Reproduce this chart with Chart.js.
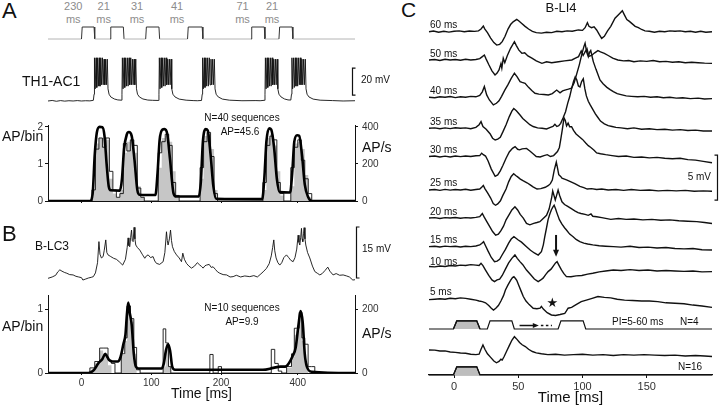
<!DOCTYPE html>
<html>
<head>
<meta charset="utf-8">
<title>B-LI4</title>
<script src="https://cdn.jsdelivr.net/npm/chart.js@4.4.1/dist/chart.umd.min.js"></script>
<style>
  body { margin: 0; position: relative; width: 720px; height: 408px; overflow: hidden; background: #fff;
         font-family: "Liberation Sans", Arial, sans-serif; color: #111; }
  canvas { position: absolute; }
  .t { position: absolute; white-space: nowrap; line-height: 1; }
</style>
</head>
<body>
<script>
// ---------- panels A and B: time in display ms (the 200-400 stretch is squeezed like in the figure) ----------
const timeTickPos = [0, 100, 200, 310];
const timeTickLabels = ['0', '100', '200', '400'];

const aStimLabels = ['230', '21', '31', '41', '71', '21'];
const aStim = [[-48,0],[0,0],[1,1],[18,1],[19,0],[41,0],[42,1],[60,1],[61,0],[92,0],[93,1],[111,1],[112,0],
  [152,0],[153,1],[173,1],[174,0],[243,0],[244,1],[262,1],[263,0],[283,0],[284,1],[302,1],[303,0],[392,0]];

// TH1-AC1 membrane potential, mV above rest
const aVm = [[-48,0],[-42,0.4],[-36,-0.2],[-30,0.3],[-24,-0.1],[-18,0.2],[-12,0],[-6,0.3],[0,0],[6,0.2],[12,0.1],
  [17,0.5],[18,5],[18.6,32],[19.6,9],[20.9,32],[21.9,10],[23.2,32],[24.2,11],[25.5,32],[26.5,11],[27.8,32],[28.8,12],
  [30.1,32],[31.1,12],[32.4,31],[33.4,12],[34.7,31],[35.7,12],[37,31],[38,9],[39.5,5],[42,3],[47,1.5],[52,0.8],
  [57,0.6],[58,5],[58.6,32],[59.6,9],[61,32],[62,10],[63.4,32],[64.4,11],[65.8,32],[66.8,11],[68.2,32],[69.2,12],
  [70.6,32],[71.6,12],[73,31],[74,12],[75.4,31],[76.4,12],[77.8,31],[78.8,9],[80.3,5],[83,3],[88,1.5],[95,0.7],[102,0.5],
  [110,0.4],[111,5],[111.6,32],[112.6,9],[114,32],[115,10],[116.4,32],[117.4,11],[118.8,32],[119.8,11],[121.2,32],
  [122.2,12],[123.6,31],[124.6,12],[126,31],[127,12],[128.4,31],[129.4,9],[131,5],[134,3],[140,1.4],[150,0.6],[160,0.3],[166,0.2],
  [172,0.4],[173,5],[173.6,32],[174.6,9],[176,32],[177,10],[178.4,32],[179.4,11],[180.8,32],[181.8,11],[183.2,32],
  [184.2,12],[185.6,31],[186.6,12],[188,31],[189,12],[190.4,31],[191.4,9],[193,5],[196,3],[202,1.4],[212,0.6],[230,0.2],[250,0.3],[256,0.2],
  [262,0.5],[263,5],[263.6,32],[264.6,9],[266,32],[267,10],[268.4,32],[269.4,11],[270.8,32],[271.8,11],[273.2,32],
  [274.2,12],[275.6,31],[276.6,12],[278,31],[279,12],[280.4,31],[281.4,9],[283,5],[286,3],[291,1.5],[296,0.8],
  [300,0.7],[301,5],[301.6,32],[302.6,9],[304,32],[305,10],[306.4,32],[307.4,11],[308.8,32],[309.8,11],[311.2,32],
  [312.2,12],[313.6,32],[314.6,12],[316,31],[317,12],[318.4,31],[319.4,12],[320.8,31],[321.8,9],[323.3,5],[326,3],
  [332,1.4],[342,0.6],[360,0.3],[375,0],[392,0.2]];

// histogram A: bin left edges, AP/bin (grey fill and thin outline), rate in AP/s (thick line)
const aEdges = [-48, 15,20,25,30,35,40,45,50, 55,60,65,70,75,80,85,90, 110,115,120,125,130,135,140,
  170,175,180,185,190,195, 260,265,270,275,280,285,290, 300,305,310,315,320,325,330, 392];
const aGray = [0, 0.3,1.55,1.7,1.7,1.65,0.6,0.2,0.1, 0.3,1.3,1.6,1.65,1.3,0.4,0.1,0, 0.9,1.7,1.75,1.6,0.8,0.1,0,
  0.6,1.75,1.8,1.4,0.3,0, 0.3,1.7,1.8,1.5,0.8,0.15,0, 0.4,1.55,1.6,1.4,0.7,0.1,0, 0];
const aStep = [0, 0.3,1.4,1.7,1.45,1.7,0.8,0.3,0.1, 0.2,1.55,1.35,1.65,1.5,0.35,0.1,0, 1.3,1.6,1.8,1.5,0.5,0.15,0,
  0.9,1.6,1.85,1.2,0.2,0, 0.5,1.5,1.75,1.65,0.5,0.2,0, 0.9,1.45,1.65,1.1,0.6,0.2,0, 0];
const aRateT = [-48,12,16,19,22,26,30,33,36,39,42, 55,58,61,65,68,72,76,80,83, 106,109,112,116,119,123,127,132,136,
  168,171,174,178,181,185,189,193, 259,262,265,269,272,276,280,284, 299,302,305,309,312,316,320,325,330, 392];
const aRate = [0,0,40,250,370,400,398,350,200,80,58, 56,120,280,360,372,350,220,60,34, 32,150,330,385,388,360,220,40,24,
  24,100,320,388,380,250,80,12, 10,120,320,392,385,290,120,48, 46,150,320,355,352,250,90,20,0, 0];

// B-LC3 membrane potential, mV above rest
const bVm = [[-48,-0.1],[-42,0.3],[-37,0.8],[-34,1.8],[-31,2.4],[-28,2.0],[-24,1.6],[-21,1.4],[-17,1.0],[-12,0.9],[-8,0.5],
  [-4,0.3],[0,0.1],[2,-0.6],[6,-0.3],[10,0.0],[14,0.2],[17,0.4],[20,1.5],[23,4.5],[25,10.7],[26.5,7],[28.5,5.9],[31,6.3],
  [32.5,8],[34.8,11.2],[36.3,7.5],[38,6.8],[42,6.3],[46,5.8],[50,5.5],[54,4.8],[59,3.8],[63,5.5],[65.5,9],[66.8,11.8],
  [68,9.5],[69.2,9.2],[70.5,12],[71.7,14.1],[72.8,11],[74,10.7],[75.4,14.9],[76.6,11.5],[77.8,9.7],[80,9.0],[83.6,8.2],
  [87,7.0],[90.7,5.8],[93,6.5],[95.5,6.8],[99,6.0],[102.6,6.3],[105,5.0],[107.5,4.3],[112,4.0],[117,4.8],[119.5,7.5],
  [121.8,13.6],[123,11],[124.1,9.7],[126,11.5],[127.6,14.1],[129,11],[130.4,9.2],[133,7.8],[136.2,6.8],[140,5.9],
  [143.3,4.8],[145.2,7.3],[147.5,5.5],[150.5,4.3],[154,3.5],[157.7,2.9],[162,3.5],[166,4.5],[169.6,3.8],[172,3.4],
  [174.3,2.9],[177,3.6],[179.2,3.8],[183,4.0],[186,3.1],[188.6,3.3],[192,2.5],[195,1.8],[198.2,1.4],[203,1.0],[208,0.9],
  [213,0.3],[217.3,0.4],[222,0.8],[228,0.3],[234,0.6],[241.2,0.4],[247,0.7],[252,0.3],[256,1.0],[260.3,1.8],[265,2.8],
  [269,4.2],[272,6.5],[274,9],[275.6,11.2],[277,8],[278.9,5.9],[281.5,4.5],[284.2,3.8],[287,4.5],[290,6.0],[293.8,6.8],
  [297,6.0],[300,5.2],[303.3,4.8],[306,6],[308.5,8.5],[310.5,12.6],[311.7,10.5],[312.9,9.7],[314.2,12],[315.3,14.6],
  [316.2,11.5],[317.2,10.7],[318.2,13],[319.1,14.8],[320.3,11.5],[321.5,9.7],[324,7.5],[327.2,5.9],[331,3.5],[334.4,1.9],
  [338,1.4],[341.6,0.9],[345,1.3],[349,2.2],[353,3.2],[356,2.0],[360.6,0.9],[365,1.3],[370,0.8],[375,0.9],[380,0.6],
  [384,0.3],[388.9,-0.6],[392,-0.5]];

const bEdges = [-48, 12,19,26,31,38,43,48, 57,62,65.4,70.2,75,79,84, 117,120.8,124.7,128, 184,188.6,196,200.7,
  272,277,282,287, 294,301,305,308.2,312,315.8,320,324.8,329.6,334.4, 392];
const bGray = [0, 0.05,0.15,0.35,0.3,0.12,0,0, 0.28,0.5,1.0,0.8,0.3,0,0, 0.1,0.45,0.1,0, 0,0,0,0, 0,0,0,0,
  0.08,0.25,0.6,0.65,0.9,0.5,0.15,0,0,0, 0];
const bStep = [0, 0.08,0.18,0.39,0.39,0.2,0.15,0, 0.3,0.55,1.05,0.85,0.4,0.05,0, 0.69,0.47,0.1,0, 0.29,0,0.1,0,
  0.37,0.15,0.03,0, 0.1,0.3,0.7,0.7,0.95,0.55,0.45,0.1,0.1,0, 0];
const bRateT = [-48,10,18,24,30,34,37,40,45,52, 56,60,63,65,67,69,72,75,78,82, 115,118,121,124,127,130,134,
  260,275,285,292,297,302,307,311,314,317,320,323,330, 392];
const bRate = [0,0,10,30,44,60,50,40,36,36, 50,90,120,180,220,190,150,60,20,14, 14,30,70,90,70,20,10,
  10,16,20,20,30,50,80,150,194,160,60,20,4, 0];

// ---------- panel C: B-LI4, time in ms, potential in mV relative to each trace's rest ----------
const cTimeTicks = [0, 50, 100, 150];
const cLabels = ['60 ms', '50 ms', '40 ms', '35 ms', '30 ms', '25 ms', '20 ms', '15 ms', '10 ms', '5 ms'];
const c60 = [[-19.5,0],[-16,0.08],[-12,-0.05],[-8,0.05],[-4,-0.04],[0,0.05],[4,0.1],[8,0],[12,0.08],[16,0.04],[19,0.1],
  [21,0.3],[22.8,0.63],[24,0.3],[26,-0.1],[28.5,-0.7],[31,-1.2],[33.2,-1.48],[35.5,-1.4],[37.5,-1.1],[39.7,-0.5],[42,0.3],
  [44,0.8],[46,1.1],[48.8,1.37],[50.5,1.2],[52.5,0.95],[55.3,0.6],[58,0.3],[61,0.05],[64,-0.1],[68,-0.15],[72,-0.05],
  [76,-0.1],[80,0.05],[84,0],[88,0.1],[92,0.05],[96.8,0.2],[100,0.15],[102,0.45],[103.8,1.0],[105,0.6],[107,0.45],
  [109,0.55],[111,0.2],[113,-0.3],[114.9,-0.74],[117,-0.5],[119.5,0.1],[122,0.6],[125.3,1.5],[128,1.9],[131,2.33],
  [132.5,1.9],[134.5,1.35],[136.5,1.15],[138.3,0.93],[141,0.6],[143.5,0.45],[146,0.25],[148.6,0.1],[152,0.05],[156,-0.05],
  [160,0.05],[164,0],[168,0.1],[172,0.05],[176,0.1],[180,0],[184,0.05],[188,-0.05],[192,0.05],[196,-0.05],[200.8,0]];
const c50 = [[-19.5,0],[-15,0.05],[-11,-0.05],[-7,0.08],[-3,0],[1,0.05],[5,-0.03],[9,0.08],[13,0],[17,0.05],[20,0.15],
  [21.8,0.35],[23.6,0.55],[25,0.1],[27,-0.5],[29.5,-1.2],[31.9,-1.67],[33.5,-1.45],[35,-1.1],[36.5,-0.4],[37.2,-0.9],
  [38.3,0.2],[39.5,-0.3],[41.5,0.5],[44,1.3],[47,2.04],[48.5,1.6],[50.5,1.1],[52.8,0.74],[55,0.8],[57.5,0.45],[60.6,0.2],
  [64,-0.1],[68.4,-0.37],[72,-0.2],[76,-0.3],[81.3,-0.2],[86,-0.1],[91.7,0],[94.5,0.2],[96.9,0.37],[99,1.0],[100.5,0.5],
  [102,0.9],[103.5,1.25],[105,0.4],[107,0.5],[109.5,0.8],[112,1.04],[114,0.9],[117,0.74],[120,0.5],[123.5,0.2],
  [127.5,0],[132,-0.1],[136,-0.05],[140,-0.2],[145,-0.1],[150,-0.15],[155,-0.05],[160,-0.2],[165,-0.15],[170,-0.25],
  [175,-0.2],[180,-0.3],[185,-0.25],[190,-0.3],[195,-0.35],[200.8,-0.37]];
const c40 = [[-19.5,0],[-15,-0.05],[-11,0.05],[-7,0],[-3,0.08],[1,-0.04],[5,0.05],[9,0],[13,0.1],[17,0.05],[20,0.2],
  [22,0.6],[23.6,1.2],[25.4,0.26],[27.5,-0.3],[30.6,-0.85],[33,-0.67],[35,-0.4],[37,0.1],[39.5,0.8],[42,1.4],[44.5,2.1],
  [47,2.67],[49,2.3],[51.4,1.74],[53,1.65],[55.3,1.55],[58,1.1],[60.5,0.75],[63,0.44],[66,0.35],[70,0.3],[73.4,0.26],
  [76.5,0.4],[79.9,0.8],[82.5,0.5],[84.5,0.7],[86.3,0.8],[89,0.9],[91.4,1.0],[93.5,1.6],[95.5,2.6],[97.5,3.6],[99.5,4.8],
  [101,5.6],[102,6.0],[103.3,5.0],[104.5,4.5],[105.5,5.0],[106.4,5.2],[107.5,4.5],[108.4,3.96],[110.5,3.1],[113.6,1.92],
  [116,1.5],[119,1.1],[121.5,0.85],[124,0.62],[127,0.4],[130,0.3],[134,0.15],[138,0.1],[143,0.05],[148,0.1],[153,0],
  [158,0.05],[163,-0.05],[168,0],[173,-0.1],[178,-0.05],[184,-0.15],[190,-0.1],[195,-0.2],[200.8,-0.15]];
const c35 = [[-19.5,0],[-15,0.05],[-11,-0.05],[-7,0.05],[-3,-0.03],[1,0.06],[5,0],[9,0.05],[13,-0.05],[17,0.1],
  [19.5,0.4],[21,0.74],[22.5,0.2],[25,-0.1],[28,-0.6],[30,-1.1],[32,-1.3],[34,-1.2],[36,-1.0],[38,-0.4],[40.5,0.4],
  [43,1.3],[45,1.9],[46.5,2.2],[48.5,1.95],[51.2,1.5],[53.5,1.1],[56.4,0.74],[59,0.4],[61.6,0.2],[65,0.05],[68.5,0],
  [72,-0.07],[75,0.1],[77,0.2],[78.5,0.45],[80,0.2],[81.5,0.3],[83,0.55],[85,1.2],[86.8,1.85],[88.5,2.8],[90,3.5],
  [91.5,4.4],[93,5.2],[94.3,5.7],[95.5,5.4],[96.8,4.7],[98,4.6],[99.3,5.2],[100.6,5.5],[101.8,4.4],[103,3.6],[104.5,3.0],
  [106,2.6],[108,2.1],[110,1.6],[112,1.2],[114,0.8],[117,0.5],[120,0.3],[123,0.2],[126,0.1],[130,0.05],[135,-0.05],
  [140,0.05],[146,-0.1],[152,-0.05],[158,-0.15],[164,-0.1],[170,-0.2],[176,-0.15],[182,-0.25],[188,-0.2],[194,-0.3],[200.8,-0.3]];
const c30 = [[-19.5,0],[-15,0.06],[-11,-0.05],[-7,0.04],[-3,-0.05],[1,0.05],[5,-0.02],[9,0.06],[13,0],[17,0.08],[20,0.1],
  [21.5,0.37],[22.8,0.2],[24.5,0.05],[26.5,-0.5],[29,-1.4],[32,-2.2],[34,-2.05],[36,-1.6],[38,-1.0],[40.5,-0.2],[43,0.5],
  [45.5,0.9],[47.5,1.1],[49.5,0.8],[51,0.74],[53,0.85],[56.4,0.9],[59,0.6],[61.5,0.3],[64,0],[67,-0.05],[70,0.1],
  [72.6,0.2],[75,0],[77.5,0.1],[80.5,0.55],[82,1.0],[83,1.85],[84.3,3.0],[85.6,4.3],[86.6,4.0],[87.6,3.4],[88.8,3.7],
  [90,3.3],[91.5,3.3],[93,2.9],[95,2.5],[97.5,2.2],[100,1.9],[102.5,1.5],[104.5,1.2],[106.5,1.0],[109,0.7],[111,0.4],
  [114,0.3],[118,0.2],[123,0.1],[128,0],[134,0.05],[140,-0.1],[146,-0.05],[152,-0.15],[158,-0.1],[164,-0.2],[170,-0.25],
  [176,-0.2],[182,-0.35],[188,-0.4],[194,-0.55],[200.8,-0.7]];
const c25 = [[-19.5,0],[-15,0.05],[-11,-0.04],[-7,0.06],[-3,-0.02],[1,0.05],[5,0],[9,0.07],[13,-0.03],[17,0.05],[20,0.1],
  [21.5,0.3],[22.8,0.5],[24,0.15],[26,-0.3],[28.5,-0.9],[30.5,-1.5],[32.3,-1.7],[34,-1.55],[36.1,-1.2],[38,-0.6],
  [40.5,0.1],[42.5,0.9],[44.5,1.5],[46.4,1.8],[48,1.6],[49.5,1.45],[51.6,1.2],[54,1.0],[56.8,0.8],[59,0.6],[61.5,0.35],
  [64.6,0.1],[67.5,0.15],[71,0.3],[73.5,0.5],[75,0.7],[76.5,1.1],[78,2.2],[79.6,3.1],[80.6,2.4],[81.5,1.7],[83,1.5],
  [84,1.3],[86,1.2],[88,1.1],[91,0.9],[94,0.7],[98,0.4],[101,0.25],[103.7,0.1],[107,0.15],[111,0.05],[115,0.1],[120,0],
  [126,0.05],[132,-0.05],[138,0.05],[145,-0.05],[152,0],[159,-0.1],[166,-0.05],[173,-0.1],[180,-0.05],[187,-0.15],
  [194,-0.1],[200.8,-0.15]];
const c20 = [[-19.5,0],[-15,0.05],[-11,-0.05],[-7,0.05],[-3,0],[1,0.06],[5,-0.03],[9,0.05],[13,0],[17,0.07],[20,0.15],
  [22,0.5],[23.5,0.1],[25.5,-0.4],[28,-1.0],[30,-1.5],[32.4,-1.9],[34.5,-1.8],[36.5,-1.4],[38.5,-0.9],[40.5,-0.2],
  [43,0.4],[45,0.9],[47.4,1.26],[49.5,0.9],[51.5,0.4],[53.9,0.0],[56.4,-0.6],[59,-0.75],[62,-0.6],[64.5,-0.5],[66.8,-0.4],
  [69,-0.1],[72,0.3],[74,1.0],[75.9,2.2],[76.8,3.0],[77.8,2.5],[78.8,2.0],[80,2.6],[81,3.1],[82.2,2.5],[84,1.8],[86,1.5],
  [88.5,1.3],[91,1.07],[94,0.8],[96.5,0.6],[98.8,0.5],[102,0.4],[104.5,0.3],[106.6,0.45],[108,0.2],[111,0.15],[115,0.05],
  [122,-0.15],[128,-0.05],[134,-0.15],[140,-0.1],[147,-0.2],[154,-0.15],[161,-0.25],[168,-0.2],[175,-0.3],[182,-0.35],
  [189,-0.4],[195,-0.5],[200.8,-0.6]];
const c15 = [[-19.5,0],[-15,0.05],[-11,-0.04],[-7,0.06],[-3,0],[1,0.05],[5,-0.03],[9,0.05],[13,0],[17,0.08],[20,0.2],
  [21.5,0.35],[23,0.55],[24.5,0.1],[26.5,-0.5],[29,-1.2],[31.5,-1.67],[33.5,-1.6],[35.5,-1.4],[37.5,-0.9],[40,-0.3],
  [42.5,0.4],[44.5,0.85],[46.6,1.1],[48.5,0.9],[50,0.74],[52.5,0.5],[56.4,0],[59.5,-0.4],[62.5,-0.7],[65.5,-0.93],
  [68,-0.55],[69.5,0.2],[70.6,1.1],[72,2.1],[73.2,3.0],[74.5,3.6],[75.8,4.1],[76.9,4.4],[77.9,4.6],[79,4.2],[80.2,3.7],
  [82,3.0],[84,2.5],[86,2.1],[87.5,1.85],[90,1.4],[92.7,1.1],[95,0.8],[97.9,0.55],[101,0.4],[104,0.3],[108,0.2],
  [113,0.1],[118,0.05],[124,0],[130,-0.05],[137,0.05],[144,-0.1],[151,-0.05],[158,-0.15],[165,-0.1],[172,-0.2],
  [179,-0.25],[186,-0.2],[193,-0.35],[200.8,-0.37]];
const c10 = [[-19.5,0.2],[-15,0.15],[-11,0.25],[-7,0.2],[-3,0.3],[1,0.25],[5,0.35],[9,0.3],[13,0.4],[17,0.35],[19.5,0.3],
  [21,0.55],[22.5,0.3],[24.5,-0.2],[27,-0.8],[29.5,-1.3],[31.5,-1.48],[33.5,-1.3],[35.5,-1.2],[37.5,-0.8],[40,-0.1],
  [42.5,0.6],[45,1.1],[47.4,1.48],[49.2,1.1],[51.3,0.74],[53.5,0.4],[56.4,-0.2],[59.5,-0.7],[62.5,-1.2],[65.5,-1.48],
  [67.5,-1.3],[69.3,-1.1],[71.3,-0.7],[73.2,-0.37],[75.5,-0.1],[77.5,0.3],[79,0.6],[80.2,0.74],[81.8,0.3],[83.6,-0.18],
  [85.5,-0.6],[87.5,-0.93],[91,-0.95],[95,-0.85],[99.5,-0.8],[104,-0.65],[108,-0.55],[113,-0.4],[118,-0.3],[124,-0.2],
  [130,-0.25],[137,-0.15],[144,-0.25],[151,-0.2],[158,-0.3],[165,-0.25],[172,-0.3],[179,-0.35],[186,-0.3],[193,-0.4],[200.8,-0.37]];
const c5 = [[-19.5,-0.15],[-15,-0.1],[-11,-0.05],[-7,-0.1],[-3,0],[1,-0.05],[5,0.05],[9,0],[13,-0.1],[17,-0.2],
  [19.5,-0.3],[22,-0.37],[24.5,-0.5],[27,-0.8],[29,-1.1],[30.7,-1.3],[32.5,-1.1],[34.5,-0.8],[36.5,-0.3],[38.5,0.3],
  [40,0.93],[42,1.5],[44,2.0],[45.5,2.3],[46.6,2.4],[47.8,2.2],[48.8,2.0],[50.5,1.4],[52.2,0.8],[53.9,0.2],[56,-0.3],
  [58.5,-0.7],[61.6,-1.1],[64.5,-1.15],[67,-1.1],[68,-0.9],[69.5,-1.2],[72.5,-1.6],[75.8,-1.85],[79,-1.9],[82.5,-1.8],
  [86.2,-1.67],[87.5,-1.4],[88.8,-1.1],[91.5,-1.0],[95,-0.7],[99,-0.37],[103,-0.2],[107.5,0],[112,0.2],[117,0.1],
  [122,0.05],[127,-0.1],[132.7,-0.2],[139,-0.25],[146,-0.3],[152,-0.3],[158.6,-0.37],[165,-0.5],[172,-0.55],[179,-0.6],
  [186,-0.75],[193,-0.85],[200.8,-1.0]];
const c16 = [[-19.5,0.22],[-15,0.2],[-11,0.1],[-7,0.12],[-3,0],[1,-0.05],[5,-0.12],[9,-0.15],[13,-0.25],[17,-0.3],
  [19.5,-0.25],[21,0.3],[22.5,0.78],[24,0.3],[26,-0.2],[28.5,-0.6],[31,-1.0],[33,-1.2],[35,-1.05],[36.5,-0.8],[37.5,-0.9],
  [39,-0.5],[41,0.1],[43,0.7],[45,1.3],[47,1.7],[49,1.4],[51,1.05],[53,0.8],[55.5,0.6],[58,0.3],[61,0.05],[64,-0.1],
  [68,-0.2],[73,-0.3],[79,-0.25],[86,-0.35],[93,-0.3],[100,-0.25],[108,-0.35],[116,-0.3],[124,-0.4],[132,-0.3],
  [140,-0.35],[148,-0.3],[156,-0.35],[164,-0.4],[172,-0.35],[180,-0.45],[188,-0.4],[195,-0.45],[200.8,-0.5]];
const cStim1 = [[-19.5,0],[-0.5,0],[2.1,1],[17.7,1],[20.2,0],[25.9,0],[28,1],[45,1],[46.9,0],[81,0],[83.2,1],[100.5,1],
  [102.5,0],[200.8,0]];
const cStim2 = [[-19.5,0],[-0.5,0],[2.1,1],[17.7,1],[20.2,0],[200.8,0]];
const cPulse = [[-0.5,0],[2.1,1],[17.7,1],[20.2,0]];

// ---------- layout ----------
const X_MIN = -48, X_MAX = 392;
const C_OFF = [38.14, 35.0, 30.86, 27.41, 24.28, 20.56, 17.44, 14.26, 11.86, 8.52];
const C_N16_OFF = 2.56, C_STIM1_OFF = 5.11, C_STIM2_OFF = 0, C_PULSE_H = 0.9;

Chart.defaults.font.family = '"Liberation Sans", Arial, sans-serif';
Chart.defaults.color = '#222';
Chart.defaults.animation = false;
Chart.defaults.plugins.legend.display = false;
Chart.defaults.plugins.tooltip.enabled = false;
Chart.defaults.elements.point.radius = 0;

function mk(left, top, w, h) {
  const c = document.createElement('canvas');
  c.width = w; c.height = h;
  c.style.left = left + 'px'; c.style.top = top + 'px';
  document.body.appendChild(c);
  return c;
}

// text placed by its baseline
function txt(s, x, base, size, align, color) {
  const d = document.createElement('div');
  d.className = 't';
  d.textContent = s;
  d.style.fontSize = size + 'px';
  d.style.top = (base - 0.8465 * size) + 'px';
  if (align === 'center') { d.style.left = x + 'px'; d.style.transform = 'translateX(-50%)'; }
  else if (align === 'right') { d.style.right = (720 - x) + 'px'; }
  else d.style.left = x + 'px';
  if (color) d.style.color = color;
  document.body.appendChild(d);
}

const pts = (arr, off = 0, k = 1) => arr.map(([x, y]) => ({ x, y: y * k + off }));
const line = (data, w, color) => ({ data, borderColor: color || '#111', borderWidth: w, pointRadius: 0,
  tension: 0, fill: false, clip: false });

function scaleBar(t, v0, v1, dir) {
  return {
    id: 'scaleBar',
    afterDraw(chart) {
      const { ctx, scales: { x, y } } = chart;
      const px = Math.round(x.getPixelForValue(t)) + 0.5;
      const y0 = y.getPixelForValue(v0), y1 = y.getPixelForValue(v1);
      ctx.save();
      ctx.strokeStyle = '#111';
      ctx.lineWidth = 1.2;
      ctx.beginPath();
      ctx.moveTo(px + dir * 3, y1); ctx.lineTo(px, y1); ctx.lineTo(px, y0); ctx.lineTo(px + dir * 3, y0);
      ctx.stroke();
      ctx.restore();
    }
  };
}

function traceChart(canvas, data, yMin, yMax, bar) {
  return new Chart(canvas, {
    type: 'line',
    data: { datasets: [line(pts(data), 0.9)] },
    options: {
      responsive: false,
      layout: { padding: { left: 48, right: 45, top: 0, bottom: 0 } },
      scales: {
        x: { type: 'linear', min: X_MIN, max: X_MAX, display: false },
        y: { min: yMin, max: yMax, display: false }
      }
    },
    plugins: [bar]
  });
}

function histChart(canvas, o) {
  const axisLine = { color: '#111', width: 1, z: 1 };
  const tickMarks = { drawOnChartArea: false, tickLength: 3, color: '#111' };
  return new Chart(canvas, {
    type: 'line',
    data: {
      datasets: [
        { data: o.rateT.map((t, i) => ({ x: t, y: o.rate[i] })), yAxisID: 'y2', borderColor: '#000', borderWidth: 2.6,
          cubicInterpolationMode: 'monotone', pointRadius: 0, fill: false },
        { data: o.edges.map((t, i) => ({ x: t, y: o.step[i] })), yAxisID: 'y', stepped: true, borderColor: '#111',
          borderWidth: 0.9, pointRadius: 0, fill: false },
        { data: o.edges.map((t, i) => ({ x: t, y: o.gray[i] })), yAxisID: 'y', stepped: true, borderWidth: 0,
          borderColor: 'rgba(0,0,0,0)', backgroundColor: '#c6c6c6', pointRadius: 0, fill: 'origin' }
      ]
    },
    options: {
      responsive: false,
      layout: { padding: { left: 0, right: 0, top: 10, bottom: 0 } },
      scales: {
        x: {
          type: 'linear', min: X_MIN, max: X_MAX,
          afterBuildTicks: s => { s.ticks = timeTickPos.map(v => ({ value: v })); },
          afterFit: s => { s.height = o.xHeight; },
          border: axisLine, grid: { drawOnChartArea: false, tickLength: 2, color: '#111' },
          ticks: { display: o.labels, callback: (v, i) => timeTickLabels[i], font: { size: 10 }, padding: 2,
                   color: '#333', maxRotation: 0, autoSkip: false },
          title: { display: o.labels, text: 'Time [ms]', font: { size: 14 }, color: '#111', padding: { top: 0, bottom: 5 } }
        },
        y: {
          position: 'left', min: 0, max: o.yMax,
          afterBuildTicks: s => { s.ticks = o.yTicks.map(v => ({ value: v })); },
          afterFit: s => { s.width = 48; },
          border: axisLine, grid: tickMarks,
          ticks: { font: { size: 10 }, padding: 2, color: '#333' }
        },
        y2: {
          position: 'right', min: 0, max: o.yMax * 200,
          afterBuildTicks: s => { s.ticks = o.y2Ticks.map(v => ({ value: v })); },
          afterFit: s => { s.width = 45; },
          border: axisLine, grid: tickMarks,
          ticks: { font: { size: 10 }, padding: 4, color: '#333' }
        }
      }
    }
  });
}

// ---------- panel A ----------
new Chart(mk(0, 25, 400, 16), {
  type: 'line',
  data: { datasets: [{ ...line(pts(aStim), 1),
    segment: { borderColor: c => (c.p0.parsed.y === 0 && c.p1.parsed.y === 0) ? '#b4b4b4' : '#333' } }] },
  options: {
    responsive: false,
    layout: { padding: { left: 48, right: 45, top: 0, bottom: 0 } },
    scales: {
      x: { type: 'linear', min: X_MIN, max: X_MAX, display: false },
      y: { min: -2 / 12, max: 14 / 12, display: false }
    }
  }
});
traceChart(mk(0, 50, 400, 60), aVm, -6.67, 37.78, scaleBar(388.4, 4.4, 24.4, 1));
histChart(mk(0, 115, 400, 96), { edges: aEdges, gray: aGray, step: aStep, rateT: aRateT, rate: aRate,
  yMax: 2.05, yTicks: [0, 1, 2], y2Ticks: [0, 200, 400], labels: false, xHeight: 4 });

// ---------- panel B ----------
traceChart(mk(0, 220, 400, 65), bVm, -2.06, 17.06, scaleBar(393, 0, 15, 1));
histChart(mk(0, 285, 400, 123), { edges: bEdges, gray: bGray, step: bStep, rateT: bRateT, rate: bRate,
  yMax: 1.22, yTicks: [0, 1], y2Ticks: [0, 200], labels: true, xHeight: 35 });

// ---------- panel C ----------
const cTraces = [c60, c50, c40, c35, c30, c25, c20, c15, c10, c5];
const cSets = cTraces.map((tr, i) => line(pts(tr, C_OFF[i]), 1.4));
cSets.push(line(pts(c16, C_N16_OFF), 1.4));
cSets.push(line(pts(cStim1, C_STIM1_OFF, C_PULSE_H), 1.2));
cSets.push(line(pts(cStim2, C_STIM2_OFF, C_PULSE_H), 1.2));
cSets.push({ ...line(pts(cPulse, C_STIM1_OFF, C_PULSE_H), 1.2), fill: { value: C_STIM1_OFF }, backgroundColor: '#bdbdbd' });
cSets.push({ ...line(pts(cPulse, C_STIM2_OFF, C_PULSE_H), 1.2), fill: { value: C_STIM2_OFF }, backgroundColor: '#bdbdbd' });

const cMarks = {
  id: 'cMarks',
  afterDatasetsDraw(chart) {
    const { ctx, scales: { x, y } } = chart;
    ctx.save();
    ctx.strokeStyle = '#111';
    ctx.fillStyle = '#111';
    // arrow and dashes between the 2nd and 3rd pulse
    const ya = y.getPixelForValue(C_STIM1_OFF) - 3.5;
    const xa0 = x.getPixelForValue(51), xa1 = x.getPixelForValue(66);
    ctx.lineWidth = 1.5;
    ctx.beginPath(); ctx.moveTo(xa0, ya); ctx.lineTo(xa1 - 4, ya); ctx.stroke();
    ctx.beginPath(); ctx.moveTo(xa1, ya); ctx.lineTo(xa1 - 6, ya - 2.5); ctx.lineTo(xa1 - 6, ya + 2.5); ctx.closePath(); ctx.fill();
    ctx.setLineDash([2.5, 2.5]);
    ctx.beginPath(); ctx.moveTo(x.getPixelForValue(67.6), ya); ctx.lineTo(x.getPixelForValue(76.2), ya); ctx.stroke();
    ctx.setLineDash([]);
    // down arrow onto the 10 ms trace
    const xd = x.getPixelForValue(79.4);
    const yd0 = y.getPixelForValue(15.56), yd1 = y.getPixelForValue(13.14);
    ctx.lineWidth = 2;
    ctx.beginPath(); ctx.moveTo(xd, yd0); ctx.lineTo(xd, yd1 - 5); ctx.stroke();
    ctx.beginPath(); ctx.moveTo(xd, yd1); ctx.lineTo(xd - 3, yd1 - 7); ctx.lineTo(xd + 3, yd1 - 7); ctx.closePath(); ctx.fill();
    // star under the 5 ms trace
    ctx.font = '13px "DejaVu Sans"';
    ctx.textAlign = 'center';
    ctx.textBaseline = 'middle';
    ctx.fillText('★', x.getPixelForValue(76.5), y.getPixelForValue(7.9));
    ctx.restore();
  }
};

const cChart = new Chart(mk(420, 0, 300, 408), {
  type: 'line',
  data: { datasets: cSets },
  options: {
    responsive: false,
    layout: { padding: { left: 9, right: 8, top: 0, bottom: 0 } },
    scales: {
      x: {
        type: 'linear', min: -19.5, max: 200.8,
        afterBuildTicks: s => { s.ticks = cTimeTicks.map(v => ({ value: v })); },
        afterFit: s => { s.height = 33; },
        border: { color: '#111', width: 1.2 },
        grid: { drawOnChartArea: false, tickLength: 3, color: '#111' },
        ticks: { font: { size: 11 }, padding: 2, color: '#333', maxRotation: 0, autoSkip: false },
        title: { display: true, text: 'Time [ms]', font: { size: 15 }, color: '#111', padding: { top: 0, bottom: 1 } }
      },
      y: { display: false, min: 0, max: 375 / 9 }
    }
  },
  plugins: [cMarks, scaleBar(204.7, 19.44, 24.44, -1)]
});

// ---------- text ----------
txt('A', 2, 18.3, 22);
txt('B', 2, 241.7, 22);
txt('C', 401, 16.7, 21);

const aStimX = [73.3, 103.7, 137, 177, 242.5, 272];
aStimLabels.forEach((s, i) => {
  txt(s, aStimX[i], 10.3, 11, 'center', '#8c8c8c');
  txt('ms', aStimX[i], 23.3, 11, 'center', '#8c8c8c');
});
txt('TH1-AC1', 22, 86, 14);
txt('20 mV', 361, 83.5, 10);
txt('AP/bin', 2, 141, 14);
txt('AP/s', 362, 152, 14);
txt('N=40 sequences', 242, 121.5, 10, 'center');
txt('AP=45.6', 240, 135, 10, 'center');

txt('B-LC3', 35, 250, 12);
txt('15 mV', 362, 252, 10);
txt('AP/bin', 2, 330.7, 14);
txt('AP/s', 362, 338, 14);
txt('N=10 sequences', 242, 311.7, 10, 'center');
txt('AP=9.9', 242, 325, 10, 'center');

txt('B-LI4', 561, 11.7, 13, 'center');
const ys = cChart.scales.y;
cLabels.forEach((s, i) => txt(s, 430, 420 * 0 + ys.getPixelForValue(C_OFF[i]) - 3, 10));
txt('5 mV', 711, 180, 10, 'right');
txt('PI=5-60 ms', 612, 325, 10);
txt('N=4', 680, 325, 10);
txt('N=16', 678, 370.5, 10);
</script>
</body>
</html>
